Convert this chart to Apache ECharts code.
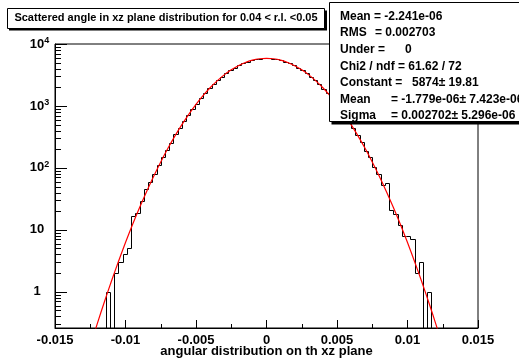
<!DOCTYPE html>
<html><head><meta charset="utf-8">
<script src="https://cdn.jsdelivr.net/npm/echarts@6/dist/echarts.min.js"></script>
<style>html,body{margin:0;padding:0;background:#fff}#c{width:519px;height:360px}</style>
</head><body><div id="c"></div>
<script>
// ---- data ----
const binLow = -0.015;
const binWidth = 0.0003;
const counts = [
  0,0,0,0,0,0,0,0,0,0,0,0,
  1,0,2,3,4,5,17,19,29,45,60,79,110,148,198,255,347,436,570,706,895,1090,1342,1601,1921,2236,2611,2969,
  3380,3752,4160,4518,4887,5176,5460,5641,5806,5858,
  5872,5785,5664,5436,5193,4868,4535,4141,3774,3357,2986,2592,2250,1902,1615,1330,1104,882,720,558,
  447,335,263,190,150,104,80,52,57,21,18,12,8,8,7,2,3,0,1,
  0,0,0,0,0,0,0,0,0,0,0
];
const fitX = [-0.0125,-0.012,-0.0115,-0.011,-0.0105,-0.01,-0.0095,-0.009,-0.0085,-0.008,-0.0075,-0.007,-0.0065,-0.006,-0.0055,-0.005,-0.0045,-0.004,-0.0035,-0.003,-0.0025,-0.002,-0.0015,-0.001,-0.0005,
  0,0.0005,0.001,0.0015,0.002,0.0025,0.003,0.0035,0.004,0.0045,0.005,0.0055,0.006,0.0065,0.007,0.0075,0.008,0.0085,0.009,0.0095,0.01,0.0105,0.011,0.0115,0.012,0.0125];
const fitY = [0.132,0.306,0.684,1.478,3.087,6.23,12.15,22.89,41.66,73.34,124.7,204.9,325.4,499.2,740.1,1060.3,1467.7,1963.7,2538.6,3171.5,3828.6,4466.4,5035.2,5485.2,5774.3,
  5874,5774.3,5485.2,5035.2,4466.4,3828.6,3171.5,2538.6,1963.7,1467.7,1060.3,740.1,499.2,325.4,204.9,124.7,73.34,41.66,22.89,12.15,6.23,3.087,1.478,0.684,0.306,0.132];
const yMinorTicks = [0.3,0.4,0.5,0.6,0.7,0.8,0.9,2,3,4,5,6,7,8,9,20,30,40,50,60,70,80,90,200,300,400,500,600,700,800,900,2000,3000,4000,5000,6000,7000,8000,9000];
const titleText = 'Scattered angle in xz plane distribution for 0.04 < r.l. <0.05';
const xAxisTitle = 'angular distribution on th xz plane';
const statsNames = ['Mean', 'RMS', 'Under =', 'Chi2 / ndf = 61.62 / 72', 'Constant =', 'Mean', 'Sigma'];
const statsValues = ['= -2.241e-06', '= 0.002703', '0', '', '5874\u00b1 19.81', '= -1.779e-06\u00b1 7.423e-06', '= 0.002702\u00b1 5.296e-06'];

// ---- layout constants ----
const X_MIN = -0.015, X_MAX = 0.015, Y_MIN = 0.26, Y_MAX = 10000;
const FONT = '"Liberation Sans", Arial, Helvetica, sans-serif';
const statsValX = [374, 375, 405, 0, 412, 391, 391];

const histData = counts.map((v, i) => [binLow + i * binWidth, binLow + (i + 1) * binWidth, v, i > 0 ? counts[i - 1] : 0]);

function crisp(p) { return [Math.round(p[0]) + 0.5, Math.round(p[1]) + 0.5]; }

const chart = echarts.init(document.getElementById('c'), null, {renderer: 'canvas'});

const graphics = [];
// title box
graphics.push({type: 'rect', z: 100, shape: {x: 9, y: 10.5, width: 318, height: 20}, style: {fill: '#000'}, silent: true});
graphics.push({type: 'rect', z: 101, shape: {x: 7.5, y: 8.5, width: 317, height: 20}, style: {fill: '#fff', stroke: '#000', lineWidth: 1}, silent: true});
graphics.push({type: 'text', z: 102, style: {text: titleText, x: 166, y: 18, align: 'center', verticalAlign: 'middle', fontSize: 11, fontWeight: 'bold', fontFamily: FONT, fill: '#000'}, silent: true});
// stats box
graphics.push({type: 'rect', z: 100, shape: {x: 331.5, y: 4.5, width: 220, height: 120}, style: {fill: '#000'}, silent: true});
graphics.push({type: 'rect', z: 101, shape: {x: 329.5, y: 2.5, width: 220, height: 119}, style: {fill: '#fff', stroke: '#000', lineWidth: 1}, silent: true});
statsNames.forEach((n, i) => {
  const y = 16.5 + 16.6 * i;
  graphics.push({type: 'text', z: 102, style: {text: n, x: 340, y: y, verticalAlign: 'middle', fontSize: 12, fontWeight: 'bold', fontFamily: FONT, fill: '#000'}, silent: true});
  if (statsValues[i]) {
    graphics.push({type: 'text', z: 102, style: {text: statsValues[i], x: statsValX[i], y: y, verticalAlign: 'middle', fontSize: 12, fontWeight: 'bold', fontFamily: FONT, fill: '#000'}, silent: true});
  }
});

const option = {
  backgroundColor: '#fff',
  animation: false,
  grid: {left: 55, right: 41, top: 44, bottom: 32, show: true, borderColor: '#000', borderWidth: 1, backgroundColor: '#fff', containLabel: false, outerBoundsMode: 'none'},
  xAxis: {
    type: 'value', min: X_MIN, max: X_MAX, interval: 0.005,
    axisLine: {show: true, onZero: false, lineStyle: {color: '#000', width: 1}},
    axisTick: {show: true, inside: true, length: 8, lineStyle: {color: '#000'}},
    minorTick: {show: true, splitNumber: 2, length: 4, lineStyle: {color: '#000'}},
    splitLine: {show: false},
    axisLabel: {color: '#000', fontSize: 13, fontWeight: 'bold', fontFamily: FONT, margin: 6, showMinLabel: true, showMaxLabel: true},
    name: xAxisTitle, nameLocation: 'middle', nameGap: 17, nameMoveOverlap: false,
    nameTextStyle: {color: '#000', fontSize: 13, fontWeight: 'bold', fontFamily: FONT}
  },
  yAxis: {
    type: 'log', logBase: 10, min: Y_MIN, max: Y_MAX,
    axisLine: {show: true, onZero: false, lineStyle: {color: '#000', width: 1}},
    axisTick: {show: true, inside: true, length: 12, lineStyle: {color: '#000'}},
    minorTick: {show: false},
    splitLine: {show: false},
    axisLabel: {
      color: '#000', fontSize: 13, fontWeight: 'bold', fontFamily: FONT, margin: 18, align: 'center',
      formatter: function (v) {
        const l = Math.log10(v);
        const e = Math.round(l);
        if (Math.abs(l - e) > 1e-6) return '';
        if (e === 0) return '1';
        if (e === 1) return '10';
        return '{pad|}{b|10}{sup|' + e + '}';
      },
      rich: {
        pad: {width: 5},
        b: {fontSize: 13, fontWeight: 'bold', fontFamily: FONT, color: '#000', lineHeight: 16},
        sup: {fontSize: 9, fontWeight: 'bold', fontFamily: FONT, color: '#000', verticalAlign: 'top', lineHeight: 9, padding: [0, 0, 6, 0]}
      }
    }
  },
  graphic: graphics,
  series: [
    {
      type: 'custom', name: 'hist', clip: true, z: 2, silent: true,
      data: histData,
      encode: {x: [0, 1], y: 2},
      renderItem: function (params, api) {
        const x0 = api.value(0), x1 = api.value(1);
        const v = Math.max(api.value(2), Y_MIN), pv = Math.max(api.value(3), Y_MIN);
        const a = crisp(api.coord([x0, pv])), b = crisp(api.coord([x0, v])), c = crisp(api.coord([x1, v]));
        return {type: 'polyline', shape: {points: [a, b, c]}, style: {stroke: '#000', fill: null, lineWidth: 1}};
      }
    },
    {
      type: 'line', name: 'fit', data: fitX.map((x, i) => [x, fitY[i]]),
      showSymbol: false, smooth: 0.3, clip: true, z: 3, silent: true,
      lineStyle: {color: '#ff0000', width: 1.2}
    },
    {
      type: 'custom', name: 'yminor', clip: false, z: 4, silent: true,
      data: yMinorTicks.map(v => [X_MIN, v]),
      encode: {x: 0, y: 1},
      renderItem: function (params, api) {
        const p = api.coord([api.value(0), api.value(1)]);
        const y = Math.round(p[1]) + 0.5;
        return {type: 'line', shape: {x1: p[0], y1: y, x2: p[0] + 6, y2: y}, style: {stroke: '#000', lineWidth: 1}};
      }
    }
  ]
};
chart.setOption(option);
</script>
</body></html>
